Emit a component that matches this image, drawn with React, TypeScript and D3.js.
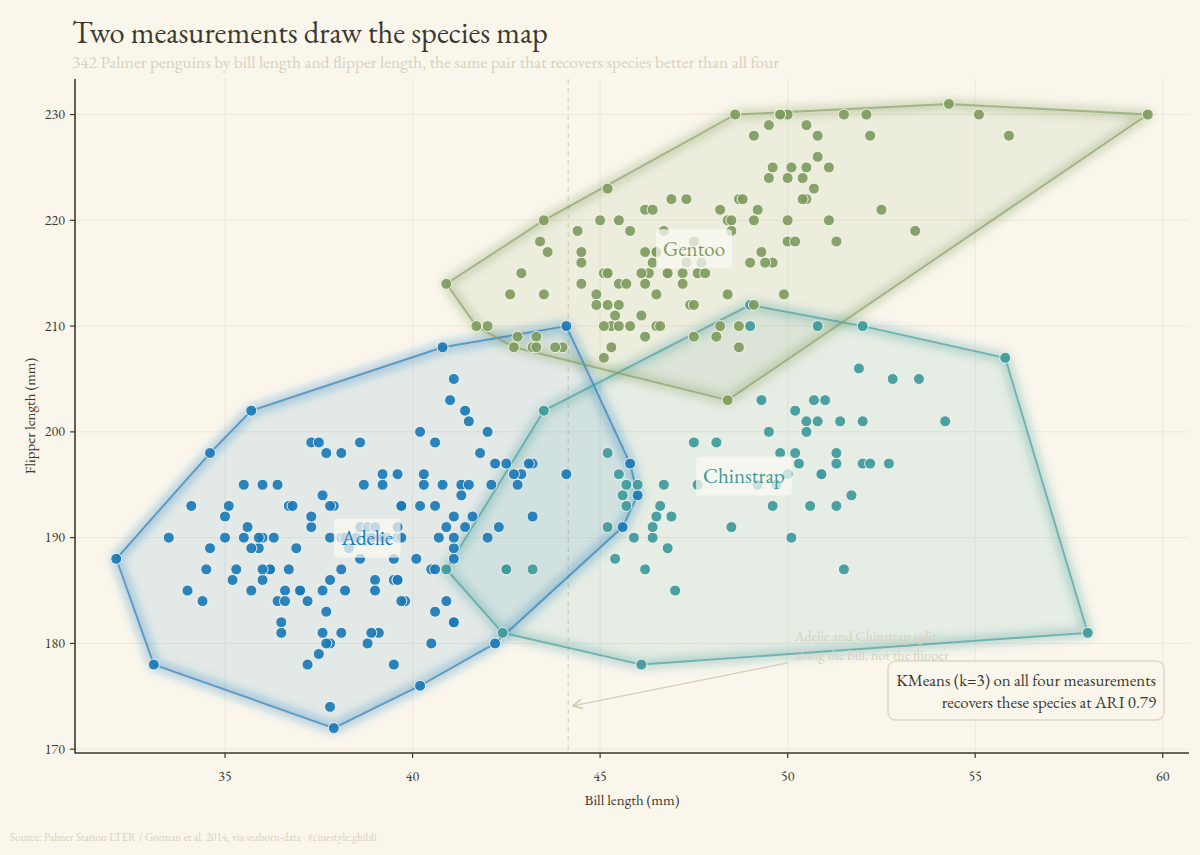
import React, { useLayoutEffect, useRef, useState } from 'react';
import * as d3 from 'd3';

// ---------- data (bill length mm, flipper length mm) ----------
const speciesNames = ['Adelie', 'Chinstrap', 'Gentoo'];

const adelie: [number, number][] = [
  [39.1,181],[39.5,186],[40.3,195],[36.7,193],[39.3,190],[38.9,181],[39.2,195],[34.1,193],[42,190],[37.8,186],
  [37.8,180],[41.1,182],[38.6,191],[34.6,198],[36.6,185],[38.7,195],[42.5,197],[34.4,184],[46,194],[37.8,174],
  [37.7,180],[35.9,189],[38.2,185],[38.8,180],[35.3,187],[40.6,183],[40.5,187],[37.9,172],[40.5,180],[39.5,178],
  [37.2,178],[39.5,188],[40.9,184],[36.4,195],[39.2,196],[38.8,190],[42.2,180],[37.6,181],[39.8,184],[36.5,182],
  [40.8,195],[36,186],[44.1,196],[37,185],[39.6,190],[41.1,182],[37.5,179],[36,190],[42.3,191],[39.6,186],
  [40.1,188],[35,190],[42,200],[34.5,187],[41.4,191],[39,186],[40.6,193],[36.5,181],[37.6,194],[35.7,185],
  [41.3,195],[37.6,185],[41.1,192],[36.4,184],[41.6,192],[35.5,195],[41.1,188],[35.9,190],[41.8,198],[33.5,190],
  [39.7,190],[39.6,196],[45.8,197],[35.5,190],[42.8,195],[40.9,191],[37.2,184],[36.2,187],[42.1,195],[34.6,189],
  [42.9,196],[36.7,187],[35.1,193],[37.3,191],[41.3,194],[36.3,190],[36.9,189],[38.3,189],[38.9,190],[35.7,202],
  [41.1,205],[34,185],[39.6,186],[36.2,187],[40.8,208],[38.1,190],[40.3,196],[33.1,178],[43.2,192],[35,192],
  [41,203],[37.7,183],[37.8,190],[37.9,193],[39.7,184],[38.6,199],[38.2,190],[38.1,181],[43.2,197],[38.1,198],
  [45.6,191],[39.7,193],[42.2,197],[39.6,191],[42.7,196],[38.6,188],[37.3,199],[35.7,189],[41.1,189],[36.2,187],
  [37.7,198],[40.2,176],[41.4,202],[35.2,186],[40.6,199],[38.8,191],[41.5,195],[39,191],[44.1,210],[38.5,190],
  [43.1,197],[36.8,193],[37.5,199],[38.1,187],[41.1,190],[35.6,191],[40.2,200],[37,185],[39.7,193],[40.2,193],
  [40.6,187],[32.1,188],[40.7,190],[37.3,192],[39,185],[39.2,190],[36.6,184],[36,195],[37.8,193],[36,187],
  [41.5,201],
];

const chinstrap: [number, number][] = [
  [46.5,192],[50,196],[51.3,193],[45.4,188],[52.7,197],[45.2,198],[46.1,178],[51.3,197],[46,195],[51.3,198],
  [46.6,193],[51.7,194],[47,185],[52,201],[45.9,190],[50.5,201],[50.3,197],[58,181],[46.4,190],[49.2,195],
  [42.4,181],[48.5,191],[43.2,187],[50.6,193],[46.7,195],[52,197],[50.5,200],[49.5,200],[46.4,191],[52.8,205],
  [40.9,187],[54.2,201],[42.5,187],[51,203],[49.7,195],[47.5,199],[47.6,195],[52,210],[46.9,192],[53.5,205],
  [49,210],[46.2,187],[50.9,196],[45.5,196],[50.9,196],[50.8,201],[50.1,190],[49,212],[51.5,187],[49.8,198],
  [48.1,199],[51.4,201],[45.7,193],[50.7,203],[42.5,187],[52.2,197],[45.2,191],[49.3,203],[50.2,202],[45.6,194],
  [51.9,206],[46.8,189],[45.7,195],[55.8,207],[43.5,202],[49.6,193],[50.8,210],[50.2,198],
];

const gentoo: [number, number][] = [
  [46.1,211],[50,230],[48.7,210],[50,218],[47.6,215],[46.5,210],[45.4,211],[46.7,219],[43.3,209],[46.8,215],
  [40.9,214],[49,216],[45.5,214],[48.4,213],[45.8,210],[49.3,217],[42,210],[49.2,221],[46.2,209],[48.7,222],
  [50.2,218],[45.1,215],[46.5,213],[46.3,215],[42.9,215],[46.1,215],[44.5,216],[47.8,215],[48.2,210],[50,220],
  [47.3,222],[42.8,209],[45.1,207],[59.6,230],[49.1,220],[48.4,220],[42.6,213],[44.4,219],[44,208],[48.7,208],
  [42.7,208],[49.6,225],[45.3,210],[49.6,216],[50.5,222],[43.6,217],[45.5,210],[50.5,225],[44.9,213],[45.2,215],
  [46.6,210],[48.5,220],[45.1,210],[50.1,225],[46.5,217],[45,220],[43.8,208],[45.5,220],[43.2,208],[50.4,224],
  [45.3,208],[46.2,221],[45.7,214],[54.3,231],[45.8,219],[49.8,230],[46.2,214],[49.5,229],[43.5,220],[50.7,223],
  [47.7,216],[46.4,221],[48.2,221],[46.5,217],[46.4,216],[48.6,230],[47.5,209],[51.1,220],[45.2,215],[45.2,223],
  [49.1,212],[52.5,221],[47.4,212],[50,224],[44.9,212],[50.8,228],[43.4,218],[51.3,218],[47.5,212],[52.1,230],
  [47.5,218],[52.2,228],[45.5,212],[49.5,224],[44.5,214],[50.8,226],[49.4,216],[46.9,222],[48.4,203],[51.1,225],
  [48.5,219],[55.9,228],[47.2,215],[49.1,228],[47.3,216],[46.8,215],[41.7,210],[53.4,219],[43.3,208],[48.1,209],
  [50.5,229],[49.8,230],[43.5,213],[51.5,230],[46.2,217],[55.1,230],[44.5,217],[48.8,222],[47.2,214],[46.8,215],
  [50.4,222],[45.2,212],[49.9,213],
];

const xTicks = [35, 40, 45, 50, 55, 60];
const yTicks = [170, 180, 190, 200, 210, 220, 230];
const splitBill = 44.15;

const titleText = 'Two measurements draw the species map';
const subtitleText = '342 Palmer penguins by bill length and flipper length, the same pair that recovers species better than all four';
const noteLines = ['Adelie and Chinstrap split', 'along the bill, not the flipper'];
const boxLines = ['KMeans (k=3) on all four measurements', 'recovers these species at ARI 0.79'];
const sourceText = 'Source: Palmer Station LTER / Gorman et al. 2014, via seaborn-data  \u00b7  #cinestyle:ghibli';

// ---------- style ----------
const W = 1200;
const H = 855;
const BG = '#faf6ec';
const INK = '#3a392f';
const FAINT = '#d8d1bf';
const FONT = "'EB Garamond', 'Liberation Serif', 'Times New Roman', serif";
const speciesColors: Record<string, string> = {
  Adelie: '#1b79b8',
  Chinstrap: '#3e9a9b',
  Gentoo: '#7f9c5e',
};

export default function App() {
  const x = d3.scaleLinear().domain([31.0, 60.7]).range([75, 1189]);
  const y = d3.scaleLinear().domain([169.64, 233.36]).range([753, 79]);
  const [x0, x1] = x.range();
  const [y0, y1] = y.range(); // y0 bottom, y1 top

  const groups = [
    { name: 'Adelie', pts: adelie },
    { name: 'Chinstrap', pts: chinstrap },
    { name: 'Gentoo', pts: gentoo },
  ];

  const hulls = groups.map((g) => {
    const pix = g.pts.map(([b, f]) => [x(b), y(f)] as [number, number]);
    const hull = d3.polygonHull(pix) || [];
    return { name: g.name, d: 'M' + hull.map((p) => p.join(',')).join('L') + 'Z' };
  });

  const centroids = groups.map((g) => ({
    name: g.name,
    cx: x(d3.mean(g.pts, (p) => p[0]) as number),
    cy: y(d3.mean(g.pts, (p) => p[1]) as number),
  }));

  const labelRefs = useRef<(SVGTextElement | null)[]>([]);
  const [labelW, setLabelW] = useState<number[]>([52, 82, 62]);
  useLayoutEffect(() => {
    const ws = labelRefs.current.map((el) => (el ? el.getBBox().width : 50));
    setLabelW(ws);
  }, []);

  // annotation anchor points (data units)
  const tip = [x(splitBill + 0.12), y(174.1)];
  const tail = [x(50.0), y(178.15)];

  const boxRight = x1 - 25;
  const boxBottom = y0 - 33;

  return (
    <div style={{ position: 'absolute', left: 0, top: 0, width: W, height: H, background: BG }}>
      <svg width={W} height={H} style={{ display: 'block', fontFamily: FONT }}>
        <defs>
          <filter id="glow" x="-20%" y="-20%" width="140%" height="140%">
            <feGaussianBlur stdDeviation="4" />
          </filter>
          <marker id="arrow" viewBox="0 0 10 10" refX="9" refY="5" markerWidth="9" markerHeight="9" orient="auto-start-reverse">
            <path d="M1,1 L9,5 L1,9" fill="none" stroke="#d2c9b5" strokeWidth="1.3" />
          </marker>
        </defs>
        <rect x={0} y={0} width={W} height={H} fill={BG} />

        {/* title */}
        <text x={72} y={43} fontSize={30.5} fill={INK}>{titleText}</text>
        <text x={72} y={68} fontSize={17.4} fill={FAINT}>{subtitleText}</text>

        {/* grid */}
        <g>
          {xTicks.map((t) => (
            <line key={'gx' + t} x1={x(t)} x2={x(t)} y1={y1} y2={y0} stroke="#eee8da" strokeWidth={1} />
          ))}
          {yTicks.map((t) => (
            <line key={'gy' + t} x1={x0} x2={x1} y1={y(t)} y2={y(t)} stroke="#eee8da" strokeWidth={1} />
          ))}
        </g>

        {/* split line */}
        <line x1={x(splitBill)} x2={x(splitBill)} y1={y1} y2={y0} stroke="#ddd5c4" strokeWidth={1.3} strokeDasharray="5,4" />

        {/* hulls */}
        <g>
          {hulls.map((h) => (
            <path key={'hf' + h.name} d={h.d} fill={speciesColors[h.name]} fillOpacity={0.1} stroke="none" />
          ))}
          {hulls.map((h) => (
            <path key={'hg' + h.name} d={h.d} fill="none" stroke={speciesColors[h.name]} strokeOpacity={0.3}
              strokeWidth={11} strokeLinejoin="round" filter="url(#glow)" />
          ))}
          {hulls.map((h) => (
            <path key={'hs' + h.name} d={h.d} fill="none" stroke={speciesColors[h.name]} strokeOpacity={0.62}
              strokeWidth={1.9} strokeLinejoin="round" />
          ))}
        </g>

        {/* points */}
        <g>
          {groups.map((g) =>
            g.pts.map(([b, f], i) => (
              <circle key={g.name + i} cx={x(b)} cy={y(f)} r={5.5} fill={speciesColors[g.name]} fillOpacity={0.92}
                stroke="#fbf8f0" strokeWidth={0.9} />
            ))
          )}
        </g>

        {/* species labels */}
        <g>
          {centroids.map((c, i) => {
            const w = labelW[i] + 14;
            return (
              <g key={'lab' + c.name}>
                <rect x={c.cx - w / 2} y={c.cy - 19.5} width={w} height={39} rx={4} fill="#fbf9f3" fillOpacity={0.72} />
                <text ref={(el) => { labelRefs.current[i] = el; }} x={c.cx} y={c.cy + 7} textAnchor="middle" fontSize={21}
                  fill={speciesColors[c.name]}>{c.name}</text>
              </g>
            );
          })}
        </g>

        {/* axes */}
        <g>
          <line x1={x0} x2={x0} y1={y1} y2={y0 + 0.5} stroke={INK} strokeWidth={1.6} />
          <line x1={x0} x2={x1} y1={y0} y2={y0} stroke={INK} strokeWidth={1.6} />
          {xTicks.map((t) => (
            <g key={'xt' + t}>
              <line x1={x(t)} x2={x(t)} y1={y0} y2={y0 + 5} stroke={INK} strokeWidth={1.2} />
              <text x={x(t)} y={y0 + 28} textAnchor="middle" fontSize={14} fill={INK}>{t}</text>
            </g>
          ))}
          {yTicks.map((t) => (
            <g key={'yt' + t}>
              <line x1={x0 - 5} x2={x0} y1={y(t)} y2={y(t)} stroke={INK} strokeWidth={1.2} />
              <text x={x0 - 10} y={y(t) + 4.5} textAnchor="end" fontSize={14} fill={INK}>{t}</text>
            </g>
          ))}
          <text x={(x0 + x1) / 2} y={y0 + 52} textAnchor="middle" fontSize={15} fill={INK}>Bill length (mm)</text>
          <text transform={`translate(35,${(y0 + y1) / 2}) rotate(-90)`} textAnchor="middle" fontSize={15} fill={INK}>
            Flipper length (mm)
          </text>
        </g>

        {/* annotation */}
        <g>
          <line x1={tail[0]} y1={tail[1]} x2={tip[0]} y2={tip[1]} stroke="#d6cdb9" strokeWidth={1.3} markerEnd="url(#arrow)" />
          {noteLines.map((l, i) => (
            <text key={'n' + i} x={tail[0] + 7} y={tail[1] - 22 + i * 19} fontSize={14.2} fill={FAINT}>{l}</text>
          ))}
        </g>

        {/* KMeans box */}
        <g>
          <rect x={boxRight - 276} y={boxBottom - 59} width={276} height={59} rx={8} fill={BG} fillOpacity={0.9}
            stroke="#ddd6c5" strokeWidth={1.5} />
          {boxLines.map((l, i) => (
            <text key={'b' + i} x={boxRight - 8} y={boxBottom - 34 + i * 22} textAnchor="end" fontSize={16.9} fill={INK}>{l}</text>
          ))}
        </g>

        {/* source */}
        <text x={10} y={841} fontSize={11.2} fill={FAINT}>{sourceText}</text>
      </svg>
    </div>
  );
}
